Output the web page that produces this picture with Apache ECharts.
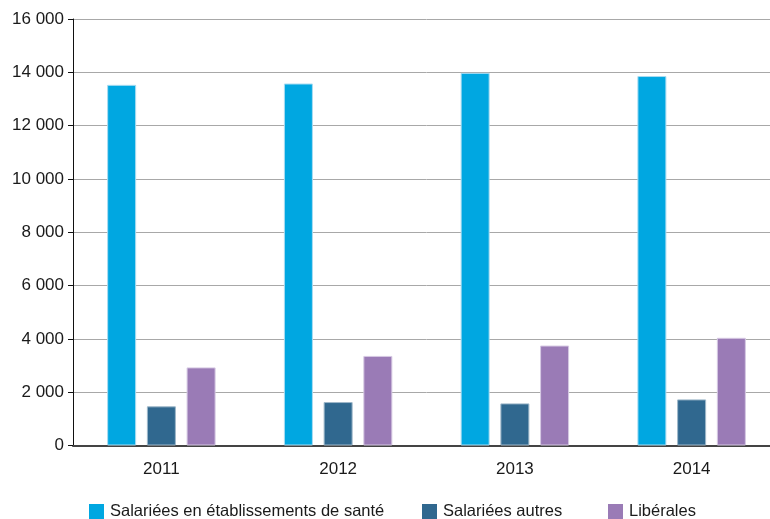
<!DOCTYPE html>
<html>
<head>
<meta charset="utf-8">
<script src="https://cdn.jsdelivr.net/npm/echarts@6/dist/echarts.min.js"></script>
<style>html,body{margin:0;padding:0;background:#fff;overflow:hidden}#c{width:790px;height:519px}</style>
</head>
<body>
<div id="c"></div>
<script>
const categories = ['2011', '2012', '2013', '2014'];
const seriesNames = ['Salariées en établissements de santé', 'Salariées autres', 'Libérales'];
const salarieesEtab = [13530, 13580, 13980, 13860];
const salarieesAutres = [1470, 1630, 1580, 1730];
const liberales = [2930, 3360, 3750, 4040];
const yTicks = { min: 0, max: 16000, interval: 2000 };

const colors = ['#00A7E1', '#30688F', '#9A7BB6'];
const borders = ['#a9dcf2', '#9fb8ca', '#d6c9e3'];
const font = 'Liberation Sans, Arial, sans-serif';

const chart = echarts.init(document.getElementById('c'), null, { renderer: 'canvas' });
const values = [salarieesEtab, salarieesAutres, liberales];
const legendLefts = [89, 422, 608];

chart.setOption({
  animation: false,
  textStyle: { fontFamily: font },
  grid: { left: 73, top: 19, height: 426.5, width: 707, containLabel: false },
  legend: seriesNames.map((n, i) => ({
    data: [n], left: legendLefts[i], top: 503, padding: 0, itemWidth: 15, itemHeight: 15, itemGap: 0,
    icon: 'rect', itemStyle: { borderWidth: 0 },
    textStyle: { fontSize: 16.5, color: '#1a1a1a', fontFamily: font, padding: [0, 0, 0, 1] },
    selectedMode: false
  })),
  xAxis: {
    type: 'category', data: categories,
    axisLine: { lineStyle: { color: '#444', width: 2 } },
    axisTick: { show: false },
    axisLabel: { fontSize: 17, color: '#1a1a1a', margin: 15 }
  },
  yAxis: {
    type: 'value', min: yTicks.min, max: yTicks.max, interval: yTicks.interval,
    axisLine: { show: true, lineStyle: { color: '#111', width: 1 } },
    axisTick: { show: true, length: 5, lineStyle: { color: '#111' } },
    splitLine: { lineStyle: { color: '#a8a8a8', width: 1 } },
    axisLabel: { fontSize: 17, color: '#1a1a1a', margin: 9,
      formatter: v => String(v).replace(/\B(?=(\d{3})+(?!\d))/g, ' ') }
  },
  series: seriesNames.map((n, i) => ({
    name: n, type: 'bar', data: values[i], barWidth: 29, barGap: '37%',
    itemStyle: { color: colors[i], borderColor: borders[i], borderWidth: 1 }
  }))
});
</script>
</body>
</html>
